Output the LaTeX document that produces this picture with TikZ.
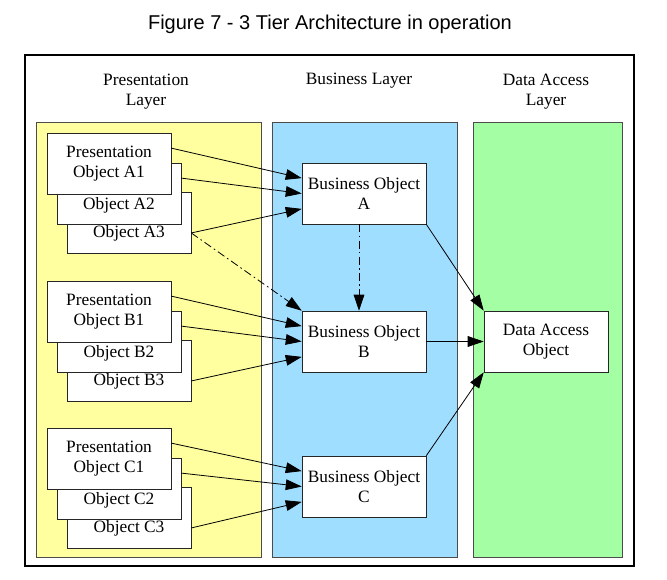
\documentclass[tikz,border=0pt]{standalone}
\usepackage{fontspec}
\setmainfont{Liberation Serif}
\newfontfamily\titlefont{Liberation Sans}
\usetikzlibrary{arrows.meta,calc,positioning}
\definecolor{presyellow}{RGB}{255,255,160}
\definecolor{busblue}{RGB}{160,222,255}
\definecolor{datagreen}{RGB}{164,255,164}
\tikzset{
  objbox/.style={draw=black!85, fill=white, minimum width=93pt, minimum height=45.75pt,
    inner sep=0pt, align=center, font=\fontsize{13}{15}\selectfont},
  objtext/.style={inner sep=0pt, align=center, font=\fontsize{13}{15}\selectfont},
  layerbox/.style={draw=black!70, line width=0.6pt},
  call/.style={-{Triangle[length=12pt,width=8pt]}, line width=0.6pt},
  dashcall/.style={call, dash pattern=on 6pt off 2.5pt on 1.2pt off 2.5pt},
}

\begin{document}
\begin{tikzpicture}[x=0.75pt,y=-0.75pt]
  \useasboundingbox (0,0) rectangle (667,580);
  \node[font=\titlefont\fontsize{15}{18}\selectfont] (title) at (330,24)
    {Figure 7 - 3 Tier Architecture in operation};
  \draw[line width=0.8pt] (25,55) rectangle (634,566);

  % the three layers
  \draw[layerbox, fill=presyellow] (36,122) rectangle (261,557);
  \draw[layerbox, fill=busblue] (272,122) rectangle (457,557);
  \draw[layerbox, fill=datagreen] (473,122) rectangle (622,557);
  \node[objtext] (presLayer) at (146,91.5) {Presentation\\Layer};
  \node[objtext] (busLayer) at (359,81) {Business Layer};
  \node[objtext] (dataLayer) at (546,91.5) {Data Access\\Layer};

  % business and data access objects
  \node[objbox] (busA) at (364,193.5) {Business Object\\A};
  \node[objbox] (busB) at (364,341.5) {Business Object\\B};
  \node[objbox] (busC) at (364,486.5) {Business Object\\C};
  \node[objbox] (dao) at (546,341.5) {Data Access\\Object};

  % stacked presentation objects
  \foreach \g/\ty in {A/133,B/281,C/428}{
    \node[objbox] (pres\g3) at (129,\ty+89.5) {};
    \node[objtext] (lbl\g3) at ($(pres\g3)+(0,11)$) {Object \g3};
    \node[objbox] (pres\g2) at (119,\ty+60.5) {};
    \node[objtext] (lbl\g2) at ($(pres\g2)+(0,12)$) {Object \g2};
    \node[objbox] (pres\g1) at (109,\ty+30.5) {Presentation\\Object \g1};

    \draw[call] ($(pres\g1.north east)!0.25!(pres\g1.south east)$)
      -- ($(bus\g.north west)!0.25!(bus\g.south west)$);
    \draw[call] ($(pres\g2.north east)!0.25!(pres\g2.south east)$)
      -- ($(bus\g.north west)!0.5!(bus\g.south west)$);
    \draw[call] ($(pres\g3.north east)!0.67!(pres\g3.south east)$) coordinate (out\g)
      -- ($(bus\g.north west)!0.75!(bus\g.south west)$);
  }

  \draw[dashcall] (outA) -- (busB.north west);
  \draw[dashcall] ($(busA.south)+(-5,0)$) -- ($(busB.north)+(-5,0)$);

  \draw[call] (busA.south east) -- (dao.north west);
  \draw[call] (busB.east) -- (dao.west);
  \draw[call] (busC.north east) -- (dao.south west);
\end{tikzpicture}
\end{document}
